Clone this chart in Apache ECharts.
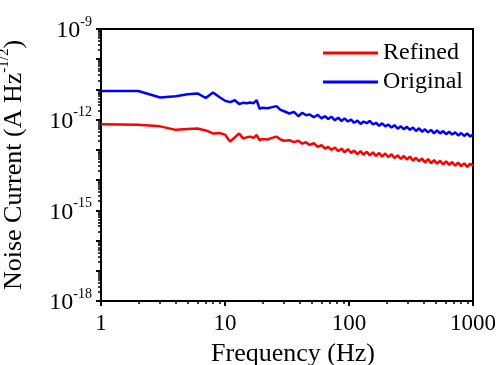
<!DOCTYPE html>
<html>
<head>
<meta charset="utf-8">
<script src="https://cdn.jsdelivr.net/npm/echarts@6/dist/echarts.min.js"></script>
<style>
html,body{margin:0;padding:0;background:#fff;}
#c{width:501px;height:365px;}
</style>
</head>
<body>
<div id="c"></div>
<script>
var freq = [1,2,3,4,5,6,7,8,9,10,11,12,13,14,15,16,17,18,19,20,
  22,24,26,28,30,33,36,39,42,45,48,52,56,60,64,68,72,77,82,87,92,98,
  104,110,117,124,131,139,147,156,165,175,185,196,
  208,220,233,247,262,277,293,310,328,347,367,388,
  410,434,459,485,513,543,574,607,642,679,718,759,803,849,898,950,1000];

var original = [8.9e-12,8.9e-12,5.4e-12,6.0e-12,6.9e-12,7.4e-12,5.2e-12,7.9e-12,5.6e-12,4.2e-12,
  3.8e-12,4.4e-12,3.3e-12,3.6e-12,3.5e-12,3.7e-12,3.5e-12,4.4e-12,2.3e-12,2.5e-12,
  2.4e-12,2.6e-12,2.8e-12,2.1e-12,1.9e-12,
  1.6e-12,1.8e-12,1.3e-12,1.7e-12,1.4e-12,1.5e-12,
  1.2e-12,1.45e-12,1.1e-12,1.3e-12,1.05e-12,1.26e-12,
  9.5e-13,1.17e-12,8.9e-13,1.1e-12,8.7e-13,
  1.0e-12,7.9e-13,9.3e-13,7.2e-13,8.7e-13,7.6e-13,9.1e-13,6.9e-13,7.9e-13,6.3e-13,7.6e-13,6.0e-13,
  6.9e-13,5.5e-13,6.6e-13,5.0e-13,6.0e-13,4.8e-13,5.8e-13,4.6e-13,5.5e-13,4.2e-13,5.2e-13,4.0e-13,
  4.8e-13,3.8e-13,4.6e-13,3.5e-13,4.4e-13,3.5e-13,4.2e-13,3.3e-13,4.0e-13,3.2e-13,3.8e-13,3.0e-13,3.6e-13,2.9e-13,3.5e-13,2.75e-13,3.3e-13];

var refined = [7.1e-13,6.8e-13,6.0e-13,4.6e-13,4.9e-13,5.1e-13,4.4e-13,3.5e-13,3.6e-13,3.2e-13,
  1.9e-13,2.6e-13,3.5e-13,2.4e-13,2.6e-13,2.75e-13,2.5e-13,3.1e-13,2.1e-13,2.3e-13,
  2.2e-13,2.5e-13,2.75e-13,2.2e-13,2.0e-13,
  2.1e-13,1.8e-13,2.0e-13,1.6e-13,1.8e-13,1.45e-13,
  1.66e-13,1.26e-13,1.45e-13,1.1e-13,1.26e-13,1.0e-13,
  1.2e-13,9.1e-14,1.1e-13,8.3e-14,1.05e-13,
  7.9e-14,9.5e-14,7.2e-14,9.1e-14,6.9e-14,8.7e-14,6.6e-14,8.3e-14,6.3e-14,7.9e-14,6.0e-14,7.6e-14,
  5.8e-14,7.2e-14,5.4e-14,6.6e-14,5.0e-14,6.3e-14,4.8e-14,6.0e-14,4.4e-14,5.5e-14,4.2e-14,5.2e-14,
  3.8e-14,5.0e-14,3.6e-14,4.6e-14,3.5e-14,4.4e-14,3.3e-14,4.2e-14,3.2e-14,4.0e-14,3.0e-14,3.8e-14,2.9e-14,3.6e-14,2.75e-14,3.5e-14,3.0e-14];

var seriesNames = ['Refined', 'Original'];
var xTickLabels = ['1', '10', '100', '1000'];
var yLabelExponents = [-9, -12, -15, -18];

var FONT = 'Liberation Serif';
function pairs(vals) { return freq.map(function (f, i) { return [f, vals[i]]; }); }

// minor tick positions (log-space exponents) for decoration axes
var minorX = [];
[1, 10, 100].forEach(function (d) { for (var k = 2; k <= 9; k++) minorX.push(Math.log10(k * d)); });
var minorY = [];
for (var e = -18; e < -9; e++) { for (var k = 2; k <= 9; k++) minorY.push(e + Math.log10(k)); }

var chart = echarts.init(document.getElementById('c'), null, {renderer: 'canvas'});
chart.setOption({
  animation: false,
  backgroundColor: '#fff',
  grid: {left: 101, right: 28, top: 29, bottom: 64, show: true, borderColor: '#000', borderWidth: 2,
    containLabel: false, outerBoundsMode: 'none'},
  legend: {
    data: seriesNames,
    orient: 'vertical',
    left: 318, top: 36,
    icon: 'rect', itemWidth: 55, itemHeight: 3, itemGap: 5,
    textStyle: {fontFamily: FONT, fontSize: 24, color: '#000'}
  },
  xAxis: [{
    type: 'log', logBase: 10, min: 1, max: 1000, splitNumber: 3,
    axisLine: {show: true, lineStyle: {color: '#000', width: 2}},
    axisTick: {show: true, length: 5, lineStyle: {color: '#000', width: 2}},
    splitLine: {show: false},
    axisLabel: {
      margin: 11, color: '#000', fontFamily: FONT, fontSize: 23,
      formatter: function (v) {
        var i = Math.round(Math.log10(v));
        return xTickLabels[i] !== undefined ? xTickLabels[i] : '';
      }
    },
    name: 'Frequency (Hz)', nameLocation: 'middle', nameGap: 40,
    nameTextStyle: {fontFamily: FONT, fontSize: 26, color: '#000', padding: [0, 0, 0, 12]}
  }, {
    type: 'value', min: 0, max: 3, position: 'bottom',
    axisLine: {show: false},
    axisTick: {show: true, length: 3, customValues: minorX, lineStyle: {color: '#000', width: 1.5}},
    axisLabel: {show: false}, splitLine: {show: false}
  }],
  yAxis: [{
    type: 'log', logBase: 10, min: 1e-18, max: 1e-9, splitNumber: 9, interval: 1,
    axisLine: {show: true, lineStyle: {color: '#000', width: 2}},
    axisTick: {show: true, length: 5, lineStyle: {color: '#000', width: 2}},
    splitLine: {show: false},
    axisLabel: {
      margin: 9, color: '#000', fontFamily: FONT,
      formatter: function (v) {
        var ex = Math.round(Math.log10(v));
        if (yLabelExponents.indexOf(ex) < 0) return '';
        return '{b|10}{s|' + ex + '}';
      },
      rich: {
        b: {fontFamily: FONT, fontSize: 24, color: '#000', lineHeight: 28, verticalAlign: 'bottom'},
        s: {fontFamily: FONT, fontSize: 14, color: '#000', lineHeight: 14, verticalAlign: 'top'}
      }
    },
    name: '{a|Noise Current (A Hz}{s|-1/2}{a|)}',
    nameLocation: 'middle', nameGap: 74, nameRotate: 90,
    nameTextStyle: {
      rich: {
        a: {fontFamily: FONT, fontSize: 26, color: '#000', lineHeight: 30, verticalAlign: 'bottom'},
        s: {fontFamily: FONT, fontSize: 15, color: '#000', lineHeight: 15, verticalAlign: 'top'}
      }
    }
  }, {
    type: 'value', min: -18, max: -9, position: 'left',
    axisLine: {show: false},
    axisTick: {show: true, length: 3, customValues: minorY, lineStyle: {color: '#000', width: 1.5}},
    axisLabel: {show: false}, splitLine: {show: false}
  }],
  series: [{
    name: seriesNames[0], type: 'line', data: pairs(refined),
    showSymbol: false, symbol: 'none', color: '#ff0000',
    lineStyle: {color: '#ff0000', width: 2.5}
  }, {
    name: seriesNames[1], type: 'line', data: pairs(original),
    showSymbol: false, symbol: 'none', color: '#0000ff',
    lineStyle: {color: '#0000ff', width: 2.5}
  }]
});
</script>
</body>
</html>
